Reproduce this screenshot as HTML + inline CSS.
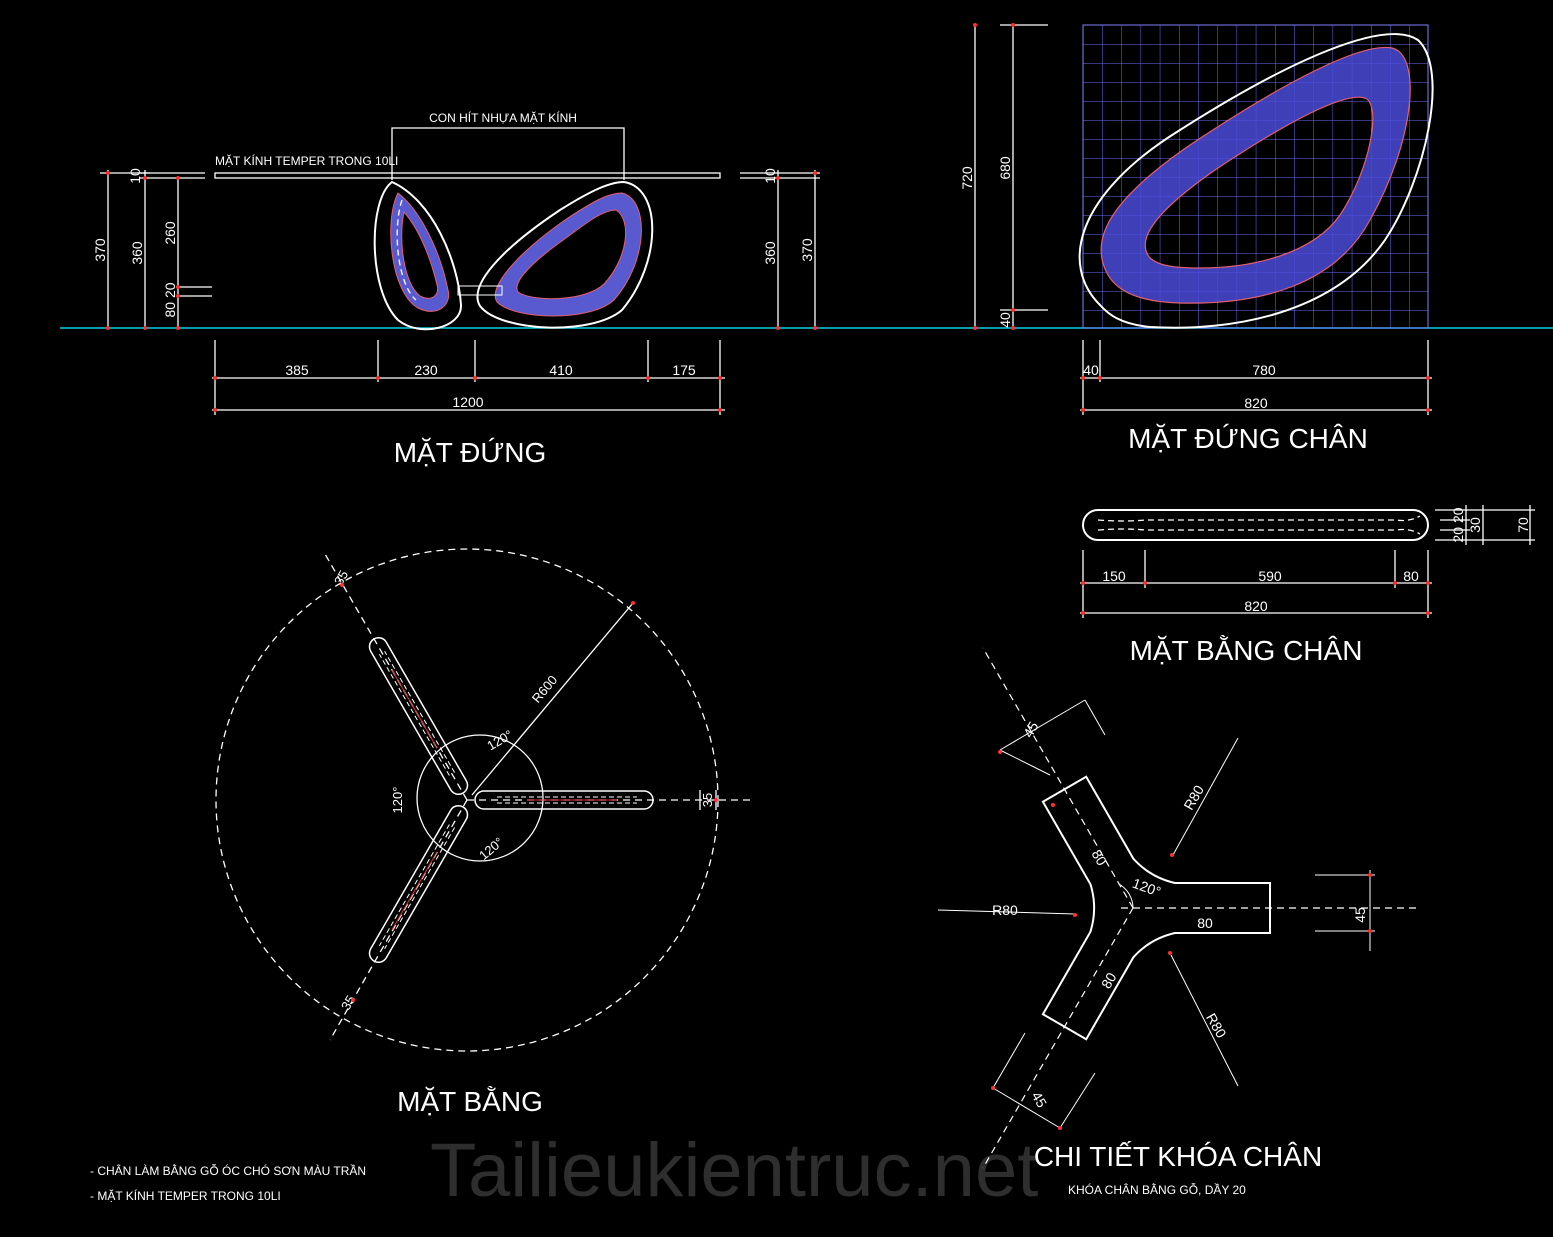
<!DOCTYPE html>
<html><head><meta charset="utf-8"><style>
html,body{margin:0;padding:0;background:#000;}
svg{display:block}
text{font-family:"Liberation Sans",sans-serif;fill:#fff}
</style></head><body>
<svg width="1553" height="1237" viewBox="0 0 1553 1237" xmlns="http://www.w3.org/2000/svg">
<rect width="1553" height="1237" fill="#000"/>
<defs>
<pattern id="grid" width="19.2" height="19" patternUnits="userSpaceOnUse" x="1083" y="25">
<path d="M0 0H19.2M0 0V19" stroke="#6a6aff" stroke-width="1" fill="none"/>
</pattern>
<g id="pleg">
<rect x="8" y="-9" width="178" height="18" rx="9" fill="none" stroke="#fff" stroke-width="1.5"/>
<line x1="30" y1="-3" x2="170" y2="-3" stroke="#fff" stroke-dasharray="5,3"/>
<line x1="30" y1="3" x2="170" y2="3" stroke="#fff" stroke-dasharray="5,3"/>
<line x1="60" y1="0" x2="150" y2="0" stroke="#e03030" stroke-width="1"/>
</g>
</defs>

<text x="430" y="1196" font-size="76" style="fill:#2e2e2e">Tailieukientruc.net</text>

<line x1="60" y1="328" x2="1553" y2="328" stroke="#00d0e0" stroke-width="1.5"/>

<!-- ===== MAT DUNG ===== -->
<g stroke="#fff" fill="none" stroke-width="1.3">
<rect x="215" y="173" width="505" height="5"/>
<line x1="140" y1="173" x2="205" y2="173"/><line x1="140" y1="178" x2="205" y2="178"/>
<line x1="740" y1="173" x2="820" y2="173"/><line x1="740" y1="178" x2="820" y2="178"/>
<line x1="180" y1="287" x2="212" y2="287"/><line x1="180" y1="296" x2="212" y2="296"/>
<line x1="108" y1="170" x2="108" y2="328"/><line x1="145" y1="170" x2="145" y2="328"/><line x1="178" y1="178" x2="178" y2="328"/>
<line x1="778" y1="170" x2="778" y2="328"/><line x1="815" y1="170" x2="815" y2="328"/>
<line x1="100" y1="173" x2="150" y2="173"/>
<polyline points="392,180 392,128 624,128 624,180"/>
<path d="M392,182 C368,200 368,290 398,320 C420,338 462,328 461,305 C458,260 432,200 392,182Z" stroke-width="2"/>
<path d="M398,193 C384,220 390,292 418,308 C438,318 452,304 448,290 C440,250 420,210 398,193Z M404,212 C398,240 404,284 420,296 C432,302 440,295 437,285 C430,255 418,228 404,212Z" fill="#5a5ad0" fill-rule="evenodd" stroke="#e06070" stroke-width="1"/>
<path d="M402,200 C392,230 398,285 416,300" stroke-dasharray="6,4"/>
<path d="M624,182 C662,188 662,262 622,310 C592,336 500,332 480,306 C468,286 500,250 560,210 C592,190 610,182 624,182Z" stroke-width="2"/>
<path d="M622,193 C650,200 648,262 614,300 C590,322 515,320 497,302 C488,288 515,255 565,220 C592,202 608,193 622,193Z M616,210 C632,220 628,258 604,284 C585,302 532,302 518,292 C512,282 532,262 566,238 C590,220 604,210 616,210Z" fill="#5a5ad0" fill-rule="evenodd" stroke="#e06070" stroke-width="1"/>
<rect x="458" y="286" width="44" height="9" stroke-width="1"/>
<line x1="215" y1="340" x2="215" y2="415"/><line x1="378" y1="340" x2="378" y2="382"/><line x1="475" y1="340" x2="475" y2="382"/><line x1="648" y1="340" x2="648" y2="382"/><line x1="720" y1="340" x2="720" y2="415"/>
<line x1="212" y1="378" x2="725" y2="378"/><line x1="212" y1="410" x2="725" y2="410"/>
</g>
<g font-size="14" text-anchor="middle">
<text x="297" y="375">385</text><text x="426" y="375">230</text><text x="561" y="375">410</text><text x="684" y="375">175</text><text x="468" y="407">1200</text>
<text transform="translate(105,250) rotate(-90)">370</text>
<text transform="translate(142,253) rotate(-90)">360</text>
<text transform="translate(175,233) rotate(-90)">260</text>
<text transform="translate(175,300) rotate(-90)">80 20</text>
<text transform="translate(140,176) rotate(-90)">10</text>
<text transform="translate(775,253) rotate(-90)">360</text>
<text transform="translate(812,250) rotate(-90)">370</text>
<text transform="translate(775,176) rotate(-90)">10</text>
</g>
<text x="503" y="122" font-size="12" text-anchor="middle">CON HÍT NHỰA MẶT KÍNH</text>
<text x="215" y="165" font-size="12">MẶT KÍNH TEMPER TRONG 10LI</text>
<text x="470" y="462" font-size="28" text-anchor="middle">MẶT ĐỨNG</text>

<!-- ===== MAT DUNG CHAN ===== -->
<rect x="1083" y="25" width="345" height="303" fill="url(#grid)" stroke="#8080ff"/>
<path d="M1100,305 C1060,265 1075,195 1180,130 C1290,60 1385,18 1418,40 C1450,70 1425,180 1385,240 C1335,312 1235,332 1150,327 C1120,324 1108,314 1100,305Z" fill="none" stroke="#fff" stroke-width="2"/>
<path d="M1108,275 C1088,240 1110,200 1190,145 C1280,85 1360,42 1392,48 C1422,55 1415,140 1370,220 C1335,285 1260,305 1180,303 C1140,302 1118,292 1108,275Z M1150,258 C1135,240 1155,212 1215,170 C1290,120 1345,92 1365,98 C1382,105 1370,170 1340,215 C1312,255 1250,268 1200,268 C1170,268 1158,265 1150,258Z" fill="#4a4ad8" fill-opacity="0.85" fill-rule="evenodd" stroke="#e06070" stroke-width="1.2"/>
<g stroke="#fff" fill="none" stroke-width="1.3">
<line x1="1000" y1="25" x2="1048" y2="25"/><line x1="1000" y1="310" x2="1048" y2="310"/>
<line x1="975" y1="25" x2="975" y2="328"/><line x1="1013" y1="25" x2="1013" y2="328"/>
<line x1="1083" y1="340" x2="1083" y2="415"/><line x1="1100" y1="340" x2="1100" y2="382"/><line x1="1428" y1="340" x2="1428" y2="415"/>
<line x1="1080" y1="378" x2="1432" y2="378"/><line x1="1080" y1="410" x2="1432" y2="410"/>
</g>
<g font-size="14" text-anchor="middle">
<text transform="translate(972,178) rotate(-90)">720</text>
<text transform="translate(1010,168) rotate(-90)">680</text>
<text transform="translate(1010,320) rotate(-90)">40</text>
<text x="1091" y="375">40</text><text x="1264" y="375">780</text><text x="1256" y="408">820</text>
</g>
<text x="1248" y="448" font-size="28" text-anchor="middle">MẶT ĐỨNG CHÂN</text>

<!-- ===== MAT BANG CHAN ===== -->
<g stroke="#fff" fill="none" stroke-width="1.3">
<rect x="1083" y="510" width="345" height="30" rx="15" stroke-width="2"/>
<path d="M1098,520 Q1125,522 1145,520 L1395,520 Q1410,522 1420,516" stroke-dasharray="6,4"/>
<path d="M1098,530 Q1125,528 1145,530 L1395,530 Q1410,528 1420,534" stroke-dasharray="6,4"/>
<line x1="1435" y1="510" x2="1535" y2="510"/><line x1="1435" y1="540" x2="1535" y2="540"/>
<line x1="1440" y1="520" x2="1470" y2="520"/><line x1="1440" y1="530" x2="1470" y2="530"/>
<line x1="1466" y1="505" x2="1466" y2="545"/><line x1="1483" y1="505" x2="1483" y2="545"/><line x1="1530" y1="505" x2="1530" y2="545"/>
<line x1="1083" y1="550" x2="1083" y2="618"/><line x1="1145" y1="550" x2="1145" y2="588"/><line x1="1395" y1="550" x2="1395" y2="588"/><line x1="1428" y1="550" x2="1428" y2="618"/>
<line x1="1080" y1="583" x2="1432" y2="583"/><line x1="1080" y1="613" x2="1432" y2="613"/>
</g>
<g font-size="14" text-anchor="middle">
<text x="1114" y="581">150</text><text x="1270" y="581">590</text><text x="1411" y="581">80</text><text x="1256" y="611">820</text>
<text transform="translate(1463,525) rotate(-90)">20 20</text>
<text transform="translate(1480,525) rotate(-90)">30</text>
<text transform="translate(1528,525) rotate(-90)">70</text>
</g>
<text x="1246" y="660" font-size="28" text-anchor="middle">MẶT BẰNG CHÂN</text>

<!-- ===== MAT BANG ===== -->
<g stroke="#fff" fill="none" stroke-width="1.3">
<circle cx="467" cy="800" r="251" stroke-dasharray="7,5"/>
<circle cx="480" cy="798" r="63"/>
<line x1="467" y1="800" x2="750" y2="800" stroke-dasharray="7,5"/>
<line x1="467" y1="800" x2="325" y2="554" stroke-dasharray="7,5"/>
<line x1="467" y1="800" x2="330" y2="1040" stroke-dasharray="7,5"/>
<line x1="472" y1="795" x2="633" y2="603"/>
<line x1="700" y1="790" x2="700" y2="810"/><line x1="716" y1="790" x2="716" y2="810"/>
</g>
<g transform="translate(467,800)">
<use href="#pleg"/>
<use href="#pleg" transform="rotate(120)"/>
<use href="#pleg" transform="rotate(240)"/>
</g>
<g font-size="13" text-anchor="middle">
<text transform="translate(548,692) rotate(-50)">R600</text>
<text transform="translate(502,744) rotate(-30)">120°</text>
<text transform="translate(402,800) rotate(-90)">120°</text>
<text transform="translate(494,852) rotate(-40)">120°</text>
<text transform="translate(712,800) rotate(-90)">35</text>
<text transform="translate(345,580) rotate(-60)">35</text>
<text transform="translate(352,1005) rotate(-60)">35</text>
</g>
<text x="470" y="1111" font-size="28" text-anchor="middle">MẶT BẰNG</text>
<text x="90" y="1175" font-size="12">- CHÂN LÀM BẰNG GỖ ÓC CHÓ SƠN MÀU TRẦN</text>
<text x="90" y="1200" font-size="12">- MẶT KÍNH TEMPER TRONG 10LI</text>

<!-- ===== CHI TIET KHOA CHAN ===== -->
<g transform="translate(1133,908)" stroke="#fff" fill="none" stroke-width="1.5">
<path d="M42,-25 L137,-25 L137,25 L42,25 A80 80 0 0 0 0.65,48.9 L-46.8,131.2 L-90.1,106.2 L-42.6,23.9 A80 80 0 0 0 -42.6,-23.9 L-90.1,-106.2 L-46.8,-131.2 L0.65,-48.9 A80 80 0 0 0 42,-25 Z" stroke-width="2"/>
<line x1="-12" y1="0" x2="287" y2="0" stroke-dasharray="7,5" stroke-width="1.2"/>
<line x1="0" y1="0" x2="-150" y2="-260" stroke-dasharray="7,5" stroke-width="1.2"/>
<line x1="0" y1="0" x2="-150" y2="260" stroke-dasharray="7,5" stroke-width="1.2"/>
<path d="M0,0 A28 28 0 0 0 -14,-24" stroke-width="1"/>
<line x1="40" y1="-53" x2="105" y2="-170" stroke-width="1"/>
<line x1="38" y1="47" x2="105" y2="178" stroke-width="1"/>
<line x1="-58" y1="6" x2="-195" y2="2" stroke-width="1"/>
<line x1="182" y1="-33" x2="242" y2="-33" stroke-width="1"/><line x1="182" y1="23" x2="242" y2="23" stroke-width="1"/>
<line x1="237" y1="-38" x2="237" y2="43" stroke-width="1"/>
<line x1="-133" y1="-158" x2="-48" y2="-208" stroke-width="1"/>
<line x1="-133" y1="-158" x2="-83" y2="-133" stroke-width="1"/>
<line x1="-48" y1="-208" x2="-28" y2="-173" stroke-width="1"/>
<line x1="-140" y1="180" x2="-73" y2="220" stroke-width="1"/>
<line x1="-108" y1="125" x2="-140" y2="180" stroke-width="1"/>
<line x1="-38" y1="165" x2="-73" y2="220" stroke-width="1"/>
</g>
<g font-size="14" text-anchor="middle">
<text transform="translate(1198,800) rotate(-60)">R80</text>
<text x="1005" y="915">R80</text>
<text transform="translate(1212,1028) rotate(60)">R80</text>
<text x="1205" y="928">80</text>
<text transform="translate(1095,860) rotate(60)">80</text>
<text transform="translate(1113,983) rotate(-60)">80</text>
<text transform="translate(1145,892) rotate(20)">120°</text>
<text transform="translate(1365,915) rotate(-90)">45</text>
<text transform="translate(1035,732) rotate(-60)">45</text>
<text transform="translate(1035,1102) rotate(60)">45</text>
</g>
<text x="1178" y="1166" font-size="28" text-anchor="middle">CHI TIẾT KHÓA CHÂN</text>
<text x="1068" y="1194" font-size="12">KHÓA CHÂN BẰNG GỖ, DẦY 20</text>

<g fill="#ff3030">
<circle cx="108" cy="173" r="2"/><circle cx="108" cy="328" r="2"/><circle cx="145" cy="178" r="2"/><circle cx="145" cy="328" r="2"/><circle cx="178" cy="178" r="2"/><circle cx="178" cy="287" r="2"/><circle cx="178" cy="296" r="2"/><circle cx="178" cy="328" r="2"/>
<circle cx="778" cy="178" r="2"/><circle cx="778" cy="328" r="2"/><circle cx="815" cy="173" r="2"/><circle cx="815" cy="328" r="2"/>
<circle cx="215" cy="378" r="2"/><circle cx="378" cy="378" r="2"/><circle cx="475" cy="378" r="2"/><circle cx="648" cy="378" r="2"/><circle cx="720" cy="378" r="2"/><circle cx="215" cy="410" r="2"/><circle cx="720" cy="410" r="2"/>
<circle cx="975" cy="25" r="2"/><circle cx="975" cy="328" r="2"/><circle cx="1013" cy="25" r="2"/><circle cx="1013" cy="310" r="2"/><circle cx="1013" cy="328" r="2"/>
<circle cx="1083" cy="378" r="2"/><circle cx="1100" cy="378" r="2"/><circle cx="1428" cy="378" r="2"/><circle cx="1083" cy="410" r="2"/><circle cx="1428" cy="410" r="2"/>
<circle cx="1083" cy="583" r="2"/><circle cx="1145" cy="583" r="2"/><circle cx="1395" cy="583" r="2"/><circle cx="1428" cy="583" r="2"/><circle cx="1083" cy="613" r="2"/><circle cx="1428" cy="613" r="2"/>
<circle cx="633" cy="603" r="2"/><circle cx="716" cy="800" r="2"/><circle cx="342" cy="585" r="2"/><circle cx="353" cy="1000" r="2"/>
<circle cx="1172" cy="855" r="2"/><circle cx="1170" cy="953" r="2"/><circle cx="1075" cy="915" r="2"/><circle cx="1370" cy="875" r="2"/><circle cx="1370" cy="931" r="2"/>
<circle cx="1000" cy="752" r="2"/><circle cx="1053" cy="805" r="2"/><circle cx="993" cy="1088" r="2"/><circle cx="1060" cy="1128" r="2"/>
</g>
</svg>
</body></html>
